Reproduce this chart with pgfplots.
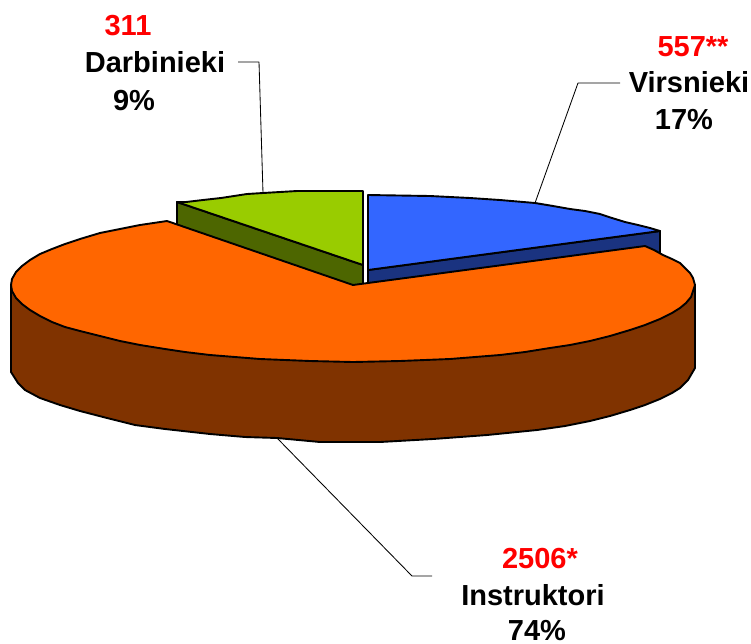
\documentclass[border=0pt]{standalone}
\usepackage{pgfplots}
\pgfplotsset{compat=1.18}
\usepackage{fontspec}
\setmainfont{Liberation Sans}
\definecolor{cblue}{HTML}{3366FF}
\definecolor{cdblue}{HTML}{1A3380}
\definecolor{cgreen}{HTML}{99CC00}
\definecolor{cdgreen}{HTML}{4D6600}
\definecolor{corange}{HTML}{FF6600}
\definecolor{cbrown}{HTML}{803300}
\begin{document}
\begin{tikzpicture}
\useasboundingbox (0,0) rectangle (751pt,643pt);
\begin{axis}[at={(0,0)},anchor=south west,width=751pt,height=643pt,scale only axis,
  hide axis,xmin=0,xmax=751,ymin=0,ymax=643,y dir=reverse,clip=false,
  every axis plot/.append style={line join=round,line width=1.9pt,draw=black}]
% leader lines
\addplot[line width=0.85pt] coordinates {(238,62)(259,62)(263,193)};
\addplot[line width=0.85pt] coordinates {(535,203)(578,83)(620,83)};
\addplot[line width=0.85pt] coordinates {(277,438)(412,576)(432,576)};
% brown side
\addplot[fill=cbrown] coordinates {(11,285)(11,372)(18,383)(25,390)(40,398)(60,405)(80,411)(107,418)(135,425)(165,429)(210,434)(245,437)(277,438)(320,442)(380,442)(433,439)(487,435)(537,430)(565,426)(590,421)(610,416)(630,410)(645,405)(660,399)(672,393)(680,388)(688,380)(695,368)(695,285)} --cycle;
% green slice
\addplot[fill=cdgreen] coordinates {(177,202)(363,265)(363,292)(177,225)} --cycle;
\addplot[fill=cgreen] coordinates {(177,202)(186,202)(203,200)(221,198)(247,194)(263,193)(297,191)(363,191)(363,265)} --cycle;
% blue slice
\addplot[fill=cdblue] coordinates {(368,270)(660,231)(660,256)(368,292)} --cycle;
\addplot[fill=cblue] coordinates {(368,195)(430,196)(470,198)(500,200)(535,203)(553,206)(570,209)(585,211)(600,214)(612,218)(625,222)(638,225)(650,228)(660,231)(368,270)} --cycle;
% orange top
\addplot[fill=corange] coordinates {(353,285)(167,221)(140,225)(120,229)(100,233)(80,239)(65,244)(52,249)(40,254)(30,260)(22,266)(16,272)(12,279)(11,285)(12,291)(16,298)(22,304)(30,310)(40,316)(52,322)(65,327)(80,331)(100,336)(120,341)(140,345)(165,349)(185,352)(210,355)(235,357)(260,359)(285,360)(310,361)(353,362)(400,361)(425,360)(450,359)(475,357)(500,355)(525,352)(550,348)(570,345)(590,341)(610,336)(630,330)(645,325)(660,319)(672,313)(680,308)(686,303)(691,297)(695,285)(693,278)(690,273)(680,263)(672,259)(663,255)(654,250)(645,246)} --cycle;
% labels
\tikzset{lab/.style={anchor=base,inner sep=0pt,font=\fontsize{29}{29}\selectfont\bfseries}}
\node[lab,text=red] at (axis cs:128,35) {311};
\node[lab] at (axis cs:155,72) {Darbinieki};
\node[lab] at (axis cs:134,110) {9\%};
\node[lab,text=red] at (axis cs:693,56) {557**};
\node[lab] at (axis cs:689,92) {Virsnieki};
\node[lab] at (axis cs:684,129) {17\%};
\node[lab,text=red] at (axis cs:540,568) {2506*};
\node[lab] at (axis cs:533,605) {Instruktori};
\node[lab] at (axis cs:537,640) {74\%};
\end{axis}
\end{tikzpicture}
\end{document}
